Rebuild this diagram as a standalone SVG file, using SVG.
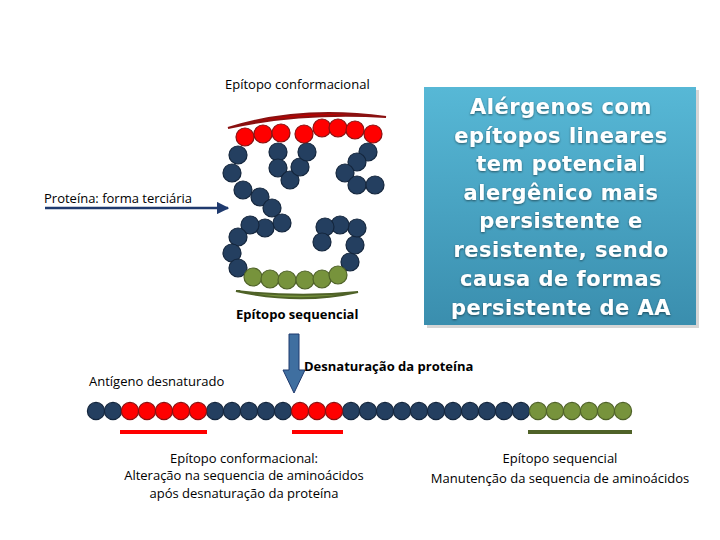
<svg xmlns="http://www.w3.org/2000/svg" width="720" height="540" viewBox="0 0 720 540">
<defs>
<style>
.t{font-family:"Open Sans","Liberation Sans",sans-serif;font-size:13px;fill:#000}
.b{fill:#243f60;stroke:#14263d;stroke-width:1.2}
.r{fill:#ff0000;stroke:#8a1010;stroke-width:1.2}
.g{fill:#77933c;stroke:#4f6228;stroke-width:1.2}
.bx{font-family:"DejaVu Sans",sans-serif;font-weight:bold;font-size:21px;fill:#fff;text-anchor:middle;letter-spacing:0.5px}
</style>
<linearGradient id="bg" x1="0" y1="0" x2="0" y2="1"><stop offset="0" stop-color="#57b8d6"/><stop offset="1" stop-color="#3a8eae"/></linearGradient>
<marker id="ah" viewBox="0 0 10 10" refX="9" refY="5" markerWidth="5" markerHeight="5" orient="auto"><path d="M0,0L10,5L0,10z" fill="#1f3a6e"/></marker>
<filter id="sh"><feDropShadow dx="0" dy="1" stdDeviation="1" flood-color="#000" flood-opacity="0.5"/></filter>
</defs>
<rect width="720" height="540" fill="#fff"/>
<g id="box">
<rect x="427" y="90" width="272" height="238" fill="#999" opacity="0.4"/>
<rect x="424" y="87" width="272" height="238" fill="url(#bg)"/>
<g filter="url(#sh)">
<text class="bx" x="561" y="114">Alérgenos  com</text>
<text class="bx" x="561" y="143">epítopos lineares</text>
<text class="bx" x="561" y="171">tem potencial</text>
<text class="bx" x="561" y="200">alergênico mais</text>
<text class="bx" x="561" y="228">persistente e</text>
<text class="bx" x="561" y="257">resistente, sendo</text>
<text class="bx" x="561" y="286">causa de formas</text>
<text class="bx" x="561" y="315">persistente de AA</text>
</g>
</g>
<g id="protein">
<path d="M228,128 Q300,105 386,117 Q300,112 228,128z" fill="#c00000" stroke="#8a1010" stroke-width="2"/>
<path d="M236,291 Q300,305 358,292 Q300,298 236,291z" fill="#77933c" stroke="#4f6228" stroke-width="2"/>
<g class="b">
<circle cx="238" cy="155" r="9"/><circle cx="232" cy="173" r="9"/><circle cx="243" cy="190" r="9"/><circle cx="260" cy="197" r="9"/><circle cx="272" cy="208" r="9"/><circle cx="282" cy="223" r="9"/><circle cx="265" cy="228" r="9"/><circle cx="250" cy="225" r="9"/><circle cx="238" cy="237" r="9"/><circle cx="232" cy="253" r="9"/><circle cx="238" cy="268" r="9"/>
<circle cx="350" cy="262" r="9"/><circle cx="355" cy="245" r="9"/><circle cx="357" cy="228" r="9"/><circle cx="340" cy="225" r="9"/><circle cx="325" cy="227" r="9"/><circle cx="322" cy="242" r="9"/>
<circle cx="278" cy="152" r="9"/><circle cx="278" cy="168" r="9"/><circle cx="290" cy="180" r="9"/><circle cx="300" cy="167" r="9"/><circle cx="307" cy="152" r="9"/>
<circle cx="368" cy="152" r="9"/><circle cx="357" cy="162" r="9"/><circle cx="345" cy="173" r="9"/><circle cx="357" cy="185" r="9"/><circle cx="375" cy="185" r="9"/>
</g>
<g class="r"><circle cx="245" cy="137" r="9"/><circle cx="263" cy="134" r="9"/><circle cx="281" cy="133" r="9"/><circle cx="304" cy="134" r="9"/><circle cx="322" cy="128" r="9"/><circle cx="338" cy="128" r="9"/><circle cx="355" cy="130" r="9"/><circle cx="373" cy="134" r="9"/></g>
<g class="g"><circle cx="253" cy="277" r="9"/><circle cx="270" cy="279" r="9"/><circle cx="287" cy="280" r="9"/><circle cx="305" cy="280" r="9"/><circle cx="322" cy="279" r="9"/><circle cx="338" cy="275" r="9"/></g>
</g>
<g id="chain">
<g class="b"><circle cx="96" cy="411" r="8.6"/><circle cx="113" cy="411" r="8.6"/>
<circle cx="215" cy="411" r="8.6"/><circle cx="232" cy="411" r="8.6"/><circle cx="249" cy="411" r="8.6"/><circle cx="266" cy="411" r="8.6"/><circle cx="283" cy="411" r="8.6"/>
<circle cx="351" cy="411" r="8.6"/><circle cx="368" cy="411" r="8.6"/><circle cx="385" cy="411" r="8.6"/><circle cx="402" cy="411" r="8.6"/><circle cx="419" cy="411" r="8.6"/><circle cx="436" cy="411" r="8.6"/><circle cx="453" cy="411" r="8.6"/><circle cx="470" cy="411" r="8.6"/><circle cx="487" cy="411" r="8.6"/><circle cx="504" cy="411" r="8.6"/><circle cx="521" cy="411" r="8.6"/></g>
<g class="r"><circle cx="130" cy="411" r="8.6"/><circle cx="147" cy="411" r="8.6"/><circle cx="164" cy="411" r="8.6"/><circle cx="181" cy="411" r="8.6"/><circle cx="198" cy="411" r="8.6"/>
<circle cx="300" cy="411" r="8.6"/><circle cx="317" cy="411" r="8.6"/><circle cx="334" cy="411" r="8.6"/></g>
<g class="g"><circle cx="538" cy="411" r="8.6"/><circle cx="555" cy="411" r="8.6"/><circle cx="572" cy="411" r="8.6"/><circle cx="589" cy="411" r="8.6"/><circle cx="606" cy="411" r="8.6"/><circle cx="623" cy="411" r="8.6"/></g>
<rect x="120" y="430" width="87" height="4" fill="#ff0000"/>
<rect x="292" y="430" width="51" height="4" fill="#ff0000"/>
<rect x="528" y="430" width="104" height="4" fill="#4f6228"/>
</g>
<g id="connectors">
<line x1="45" y1="208" x2="228" y2="208" stroke="#1f3a6e" stroke-width="2.5" marker-end="url(#ah)"/>
<path d="M289,334 H299 V370 H305 L294,393 L283,370 H289z" fill="#3f6fa0" stroke="#1f3a6e" stroke-width="1"/>
</g>
<g id="labels">
<text class="t" x="225" y="89">Epítopo conformacional</text>
<text class="t" x="44" y="203">Proteína: forma terciária</text>
<text class="t" x="236" y="319" font-weight="bold" fill="#222">Epítopo sequencial</text>
<text class="t" x="304" y="371" font-weight="bold" fill="#333">Desnaturação da proteína</text>
<text class="t" x="89" y="386">Antígeno desnaturado</text>
<text class="t" x="244" y="463" text-anchor="middle">Epítopo conformacional:</text>
<text class="t" x="244" y="480" text-anchor="middle">Alteração na sequencia de aminoácidos</text>
<text class="t" x="244" y="498" text-anchor="middle">após desnaturação da proteína</text>
<text class="t" x="560" y="463" text-anchor="middle">Epítopo sequencial</text>
<text class="t" x="560" y="483" text-anchor="middle">Manutenção da sequencia de aminoácidos</text>
</g>
</svg>
